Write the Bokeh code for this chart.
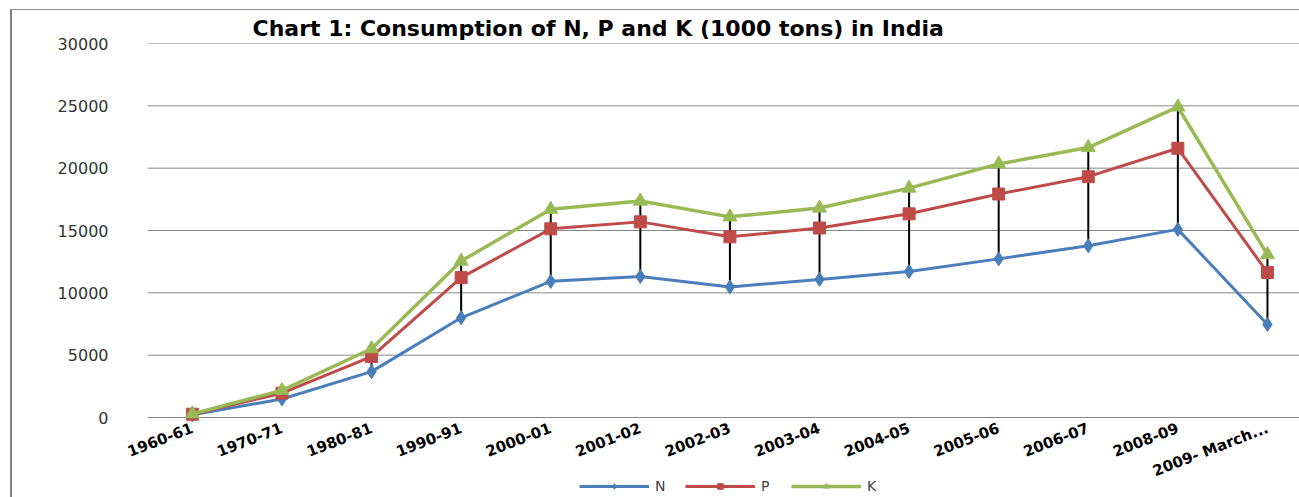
from bokeh.plotting import figure
from bokeh.models import ColumnDataSource, FixedTicker, Range1d, Legend, LegendItem
from bokeh.embed import file_html
from bokeh.resources import INLINE

categories = ["1960-61", "1970-71", "1980-81", "1990-91", "2000-01", "2001-02",
              "2002-03", "2003-04", "2004-05", "2005-06", "2006-07", "2008-09",
              "2009- March..."]
N = [210, 1487, 3678, 7997, 10920, 11310, 10474, 11077, 11714, 12723, 13773, 15090, 7460]
P = [53, 462, 1214, 3221, 4215, 4382, 4019, 4124, 4624, 5204, 5543, 6506, 4170]
K = [29, 228, 624, 1328, 1567, 1667, 1601, 1598, 2061, 2413, 2335, 3313, 1440]
y_ticks = [0, 5000, 10000, 15000, 20000, 25000, 30000]
title_text = "Chart 1: Consumption of N, P and K (1000 tons) in India"

x = list(range(len(categories)))
NP = [n + p for n, p in zip(N, P)]
NPK = [n + p + k for n, p, k in zip(N, P, K)]
src = ColumnDataSource(dict(x=x, n=N, np=NP, npk=NPK))

# plot-area edges (category axis spans -0.5 .. 12.38 visible; frame starts a bit left
# so rotated labels are not clipped)
x_lo, x_hi, x_frame = -0.5, 12.38, -0.78
grid_src = ColumnDataSource(dict(y=y_ticks, x0=[x_lo] * len(y_ticks), x1=[x_hi] * len(y_ticks)))

p = figure(width=1289, height=488, output_backend="svg", toolbar_location=None,
           x_range=Range1d(x_frame, x_hi), y_range=Range1d(-6497, 30000),
           min_border_left=110, min_border_right=0, min_border_top=33,
           min_border_bottom=0, outline_line_color=None,
           background_fill_color="white", border_fill_color="white")
p.margin = (9, 0, 0, 10)
p.styles = {"border-left": "2px solid #808080", "border-top": "1px solid #909090"}

p.title.text = title_text
p.title.align = "left"
p.title.offset = 130
p.title.text_font = "DejaVu Sans"
p.title.text_font_size = "22px"
p.title.text_font_style = "bold"
p.title.text_color = "black"
p.title.standoff = 5

# horizontal gridlines (incl. category axis line at 0)
p.segment(x0="x0", y0="y", x1="x1", y1="y", source=grid_src, line_color="#868686", line_width=1)

# high-low lines
p.segment(x0="x", y0="n", x1="x", y1="npk", source=src, line_color="black", line_width=2)

blue, red, green = "#4A7EBB", "#BE4B48", "#98B954"
ln = p.line("x", "n", source=src, line_color=blue, line_width=3)
mn = p.scatter("x", "n", source=src, marker="diamond", size=14, fill_color=blue, line_color=blue)
lp = p.line("x", "np", source=src, line_color=red, line_width=3)
mp = p.scatter("x", "np", source=src, marker="square", size=12, fill_color=red, line_color=red)
lk = p.line("x", "npk", source=src, line_color=green, line_width=3.5)
mk = p.scatter("x", "npk", source=src, marker="triangle", size=14, fill_color=green, line_color=green)

p.xaxis.fixed_location = 0
p.xaxis.ticker = FixedTicker(ticks=x)
p.xaxis.major_label_overrides = {i: c for i, c in enumerate(categories)}
p.xaxis.major_label_orientation = 0.37
p.xaxis.major_tick_line_color = None
p.xaxis.minor_tick_line_color = None
p.xaxis.axis_line_color = None
p.xaxis.major_label_text_font = "DejaVu Sans"
p.xaxis.major_label_text_font_style = "bold"
p.xaxis.major_label_text_font_size = "15px"
p.xaxis.major_label_text_color = "black"
p.xaxis.major_label_standoff = 4

p.yaxis.ticker = FixedTicker(ticks=y_ticks)
p.yaxis.axis_line_color = None
p.yaxis.major_tick_line_color = None
p.yaxis.minor_tick_line_color = None
p.yaxis.major_label_text_font = "DejaVu Sans"
p.yaxis.major_label_text_font_size = "16px"
p.yaxis.major_label_text_color = "#333333"
p.yaxis.major_label_standoff = 8

p.xgrid.grid_line_color = None
p.ygrid.grid_line_color = None

legend = Legend(items=[LegendItem(label="N", renderers=[ln, mn]),
                       LegendItem(label="P", renderers=[lp, mp]),
                       LegendItem(label="K", renderers=[lk, mk])],
                orientation="horizontal", location=(457, 4),
                glyph_width=70, glyph_height=14, label_standoff=6, spacing=10,
                padding=0, margin=0, border_line_color=None,
                background_fill_alpha=0,
                label_text_font="DejaVu Sans", label_text_font_size="14px",
                label_text_color="#404040")
p.add_layout(legend, "center")

open("out.html", "w").write(file_html(p, INLINE))
